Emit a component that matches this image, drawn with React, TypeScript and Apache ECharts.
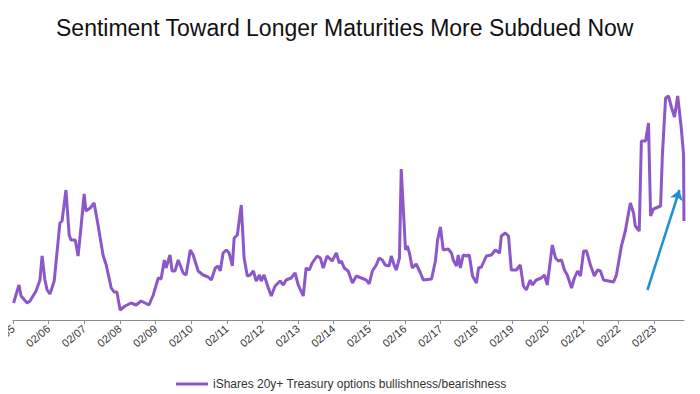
import React, { useEffect, useRef } from "react";
import * as echarts from "echarts";

// Monthly categories shown on the x axis: 02/05 .. 12/23
const START_YEAR = 2005;
const START_MONTH = 2;
const MONTH_COUNT = 227;
const monthLabels: string[] = Array.from({ length: MONTH_COUNT }, (_, i) => {
  const m = ((START_MONTH - 1 + i) % 12) + 1;
  const y = START_YEAR + Math.floor((START_MONTH - 1 + i) / 12);
  return `${String(m).padStart(2, "0")}/${String(y % 100).padStart(2, "0")}`;
});

// Observation dates (decimal years)
const obsDates: number[] = [
  2005.10, 2005.25, 2005.31, 2005.48, 2005.56, 2005.73, 2005.84, 2005.90, 2005.98, 2006.04,
  2006.12, 2006.24, 2006.40, 2006.46, 2006.57, 2006.66, 2006.71, 2006.83, 2006.91, 2006.99,
  2007.08, 2007.13, 2007.25, 2007.36, 2007.47, 2007.61, 2007.70, 2007.84, 2007.92, 2008.00,
  2008.09, 2008.23, 2008.40, 2008.54, 2008.68, 2008.79, 2008.90, 2009.02, 2009.16, 2009.24,
  2009.33, 2009.38, 2009.49, 2009.55, 2009.63, 2009.72, 2009.86, 2009.94, 2010.06, 2010.14,
  2010.28, 2010.42, 2010.56, 2010.65, 2010.76, 2010.84, 2010.90, 2010.98, 2011.07, 2011.15,
  2011.24, 2011.29, 2011.38, 2011.49, 2011.57, 2011.66, 2011.74, 2011.83, 2011.91, 2012.00,
  2012.05, 2012.13, 2012.25, 2012.33, 2012.44, 2012.58, 2012.67, 2012.75, 2012.89, 2013.00,
  2013.09, 2013.23, 2013.31, 2013.40, 2013.48, 2013.62, 2013.71, 2013.79, 2013.90, 2014.04,
  2014.16, 2014.24, 2014.30, 2014.38, 2014.49, 2014.61, 2014.72, 2014.86, 2015.00, 2015.08,
  2015.17, 2015.28, 2015.36, 2015.45, 2015.53, 2015.64, 2015.70, 2015.79, 2015.84, 2015.93,
  2015.98, 2016.10, 2016.15, 2016.21, 2016.29, 2016.40, 2016.52, 2016.60, 2016.83, 2016.94,
  2017.00, 2017.08, 2017.16, 2017.30, 2017.39, 2017.44, 2017.53, 2017.58, 2017.64, 2017.72,
  2017.81, 2017.89, 2017.98, 2018.09, 2018.15, 2018.23, 2018.37, 2018.51, 2018.62, 2018.74,
  2018.79, 2018.90, 2018.99, 2019.07, 2019.21, 2019.32, 2019.41, 2019.49, 2019.60, 2019.66,
  2019.77, 2019.91, 2020.00, 2020.08, 2020.22, 2020.31, 2020.39, 2020.48, 2020.56, 2020.64,
  2020.76, 2020.84, 2020.93, 2021.01, 2021.10, 2021.18, 2021.29, 2021.40, 2021.49, 2021.57,
  2021.66, 2021.80, 2021.94, 2022.02, 2022.16, 2022.27, 2022.41, 2022.50, 2022.55, 2022.66,
  2022.72, 2022.84, 2022.92, 2022.98, 2023.06, 2023.26, 2023.31, 2023.40, 2023.48, 2023.57,
  2023.65, 2023.74, 2023.84, 2023.905, 2023.915,
];

// iShares 20y+ Treasury options bullishness/bearishness (index)
const bullBearValues: number[] = [
  17, 35, 24, 17, 19, 29, 40, 64, 40, 30,
  26, 39, 97, 99, 130, 85, 80, 80, 64, 92,
  126, 109, 112, 117, 95, 65, 55, 32, 28, 28,
  10, 14, 17, 15, 19, 17, 15, 25, 42, 41,
  60, 52, 65, 49, 49, 60, 47, 45, 70, 65,
  49, 45, 43, 40, 52, 54, 49, 67, 70, 67,
  54, 82, 85, 115, 62, 44, 45, 49, 39, 45,
  39, 45, 32, 24, 34, 39, 35, 40, 42, 47,
  35, 24, 52, 50, 57, 64, 62, 52, 64, 59,
  67, 57, 59, 52, 49, 37, 44, 42, 40, 36,
  49, 55, 62, 60, 55, 54, 64, 54, 50, 62,
  151, 70, 74, 67, 52, 56, 47, 40, 41, 59,
  80, 93, 70, 71, 67, 60, 54, 65, 52, 65,
  64, 65, 44, 37, 52, 53, 64, 65, 70, 67,
  84, 87, 84, 50, 50, 55, 34, 30, 40, 35,
  40, 42, 45, 35, 75, 62, 59, 60, 50, 45,
  32, 42, 49, 44, 69, 69, 55, 44, 50, 49,
  40, 39, 38, 45, 74, 89, 117, 107, 94, 89,
  179, 179, 197, 104, 111, 114, 165, 222, 224, 212,
  203, 224, 192, 165, 99,
];

// Annotation arrow (date, value) start and end
const arrowStart: [number, number] = [2022.89, 30];
const arrowEnd: [number, number] = [2023.79, 130];

const AXIS_MIN = START_YEAR + (START_MONTH - 1) / 12;
const AXIS_MAX = AXIS_MIN + (MONTH_COUNT - 1) / 12;

const TITLE = "Sentiment Toward Longer Maturities More Subdued Now";
const SERIES_NAME = "iShares 20y+ Treasury options bullishness/bearishness";

export default function App() {
  const ref = useRef<HTMLDivElement>(null);
  useEffect(() => {
    if (!ref.current) return;
    const chart = echarts.init(ref.current, undefined, { renderer: "svg" });
    const font = "'Liberation Sans', Arial, sans-serif";
    chart.setOption({
      animation: false,
      backgroundColor: "#ffffff",
      title: {
        text: TITLE,
        left: 43,
        top: 3,
        textStyle: { fontFamily: font, fontSize: 23, fontWeight: "normal", color: "#111" },
      },
      legend: {
        left: 168,
        top: 370,
        padding: 0,
        itemWidth: 32,
        itemHeight: 3,
        itemGap: 4,
        icon: "rect",
        data: [SERIES_NAME],
        textStyle: { fontFamily: font, fontSize: 12, color: "#333" },
      },
      grid: { left: 5, right: 24, top: 82, bottom: 82, containLabel: false, outerBoundsMode: "none" },
      xAxis: [
        {
          type: "category",
          data: monthLabels,
          boundaryGap: false,
          axisLine: { lineStyle: { color: "#8c8c8c", width: 1 } },
          axisTick: { interval: 11, length: 4, lineStyle: { color: "#8c8c8c" } },
          axisLabel: {
            interval: 11,
            rotate: 40,
            margin: 7,
            fontFamily: font,
            fontSize: 11,
            color: "#333",
          },
          splitLine: { show: false },
        },
        {
          type: "value",
          min: AXIS_MIN,
          max: AXIS_MAX,
          show: false,
          splitLine: { show: false },
        },
      ],
      yAxis: {
        type: "value",
        min: 0,
        max: 230,
        show: false,
        splitLine: { show: false },
      },
      series: [
        {
          name: SERIES_NAME,
          type: "line",
          xAxisIndex: 1,
          symbol: "none",
          data: obsDates.map((d, i) => [d, bullBearValues[i]]),
          lineStyle: { color: "#8b57c9", width: 3 },
          itemStyle: { color: "#8b57c9" },
          markLine: {
            silent: true,
            symbol: ["none", "arrow"],
            symbolSize: 10,
            label: { show: false },
            lineStyle: { color: "#1f8fd6", width: 2.5, type: "solid" },
            data: [[{ coord: arrowStart }, { coord: arrowEnd }]],
          },
        },
      ],
    });
    return () => chart.dispose();
  }, []);
  return <div ref={ref} style={{ width: 700, height: 394 }} />;
}
